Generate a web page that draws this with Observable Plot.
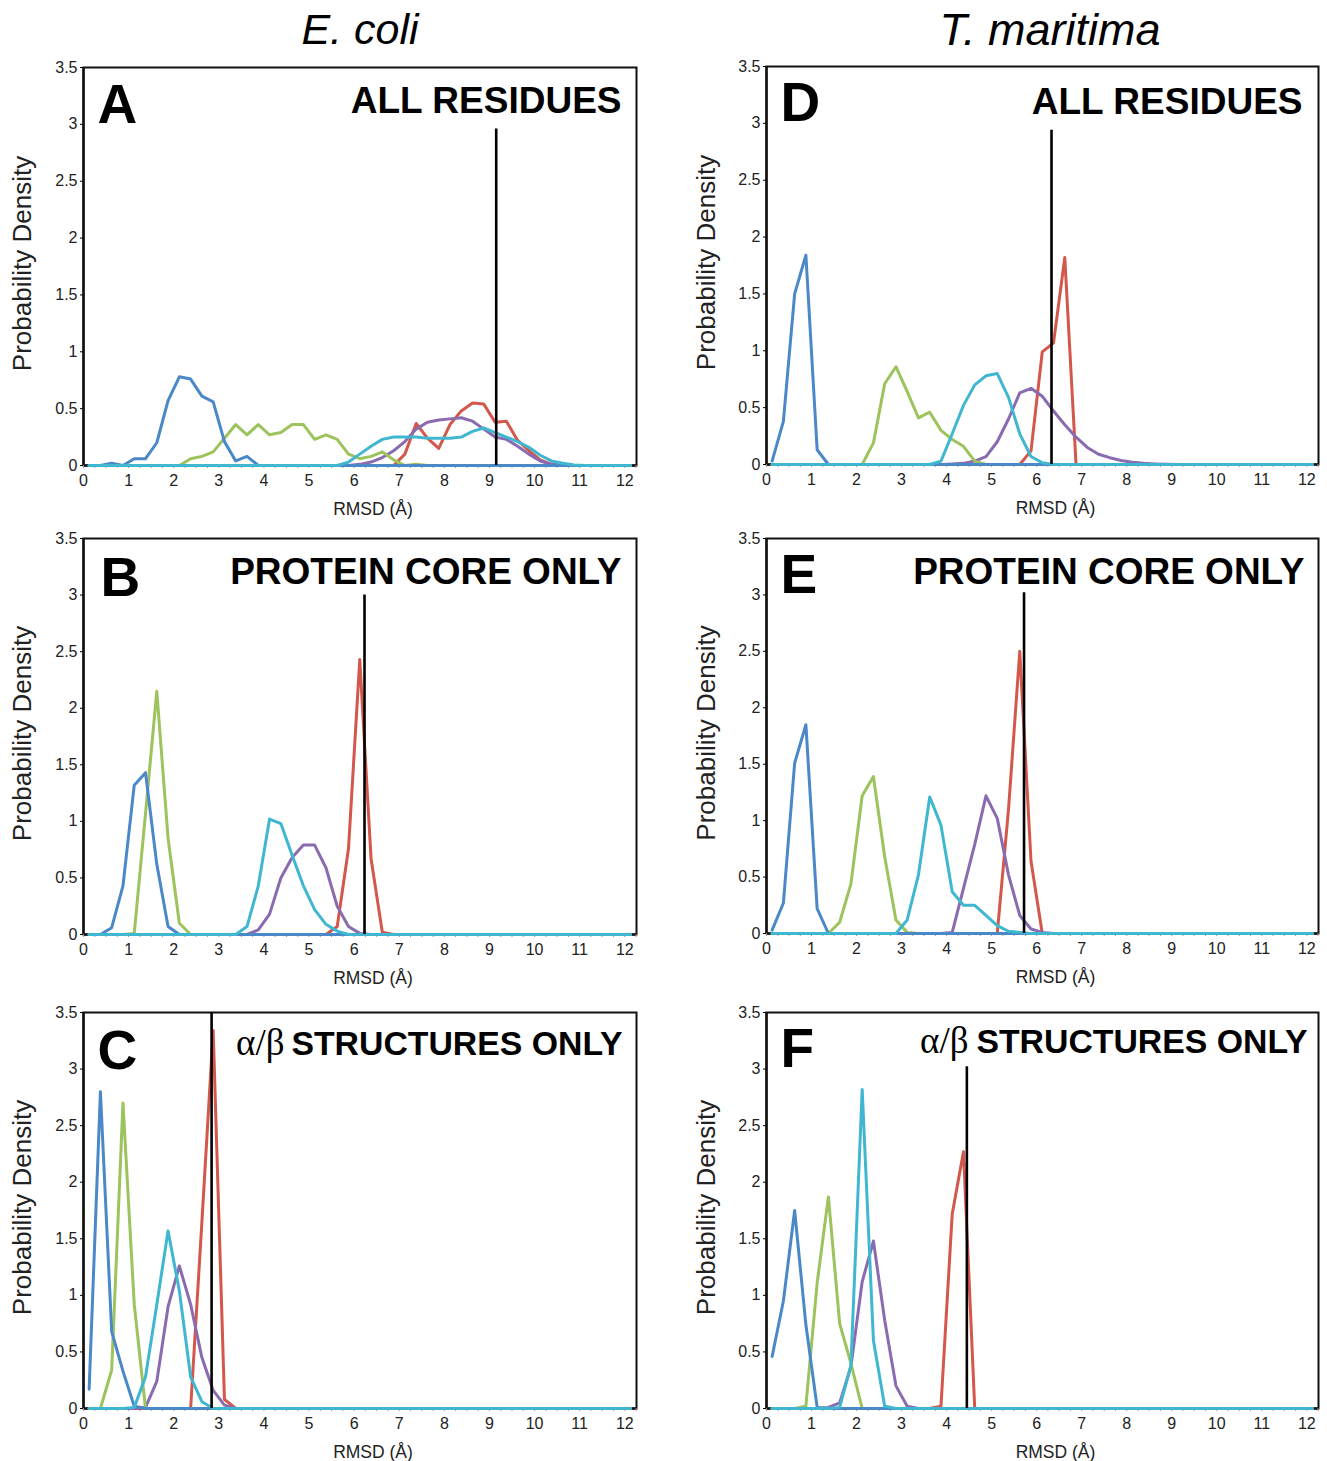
<!DOCTYPE html>
<html><head><meta charset="utf-8">
<script src="https://cdn.jsdelivr.net/npm/d3@7"></script>
<script src="https://cdn.jsdelivr.net/npm/@observablehq/plot@0.6"></script>
<style>
body{margin:0;background:#fff;width:1327px;height:1461px;overflow:hidden;position:relative;font-family:"Liberation Sans",Arial,sans-serif}
.panel{position:absolute}
.title{position:absolute;font-style:italic;line-height:1;text-align:center;width:400px;color:#000}
</style></head><body>
<div class="title" style="left:160px;top:8px;font-size:43px">E. coli</div>
<div class="title" style="left:850px;top:7px;font-size:45px">T. maritima</div>
<div id="A" class="panel"></div><div id="B" class="panel"></div><div id="C" class="panel"></div>
<div id="D" class="panel"></div><div id="E" class="panel"></div><div id="F" class="panel"></div>
<script>
// ---- data: RMSD bins (Å) start x0, step 0.25; probability density values ----
const seriesOrder = ["red", "purple", "green", "blue", "cyan"];
const seriesColors = {blue: "#4a88c8", green: "#9cc35c", cyan: "#40b7d0", purple: "#8a6bb0", red: "#d3574b"};
const yTicks = [0, 0.5, 1, 1.5, 2, 2.5, 3, 3.5];
const xTicks = [0, 1, 2, 3, 4, 5, 6, 7, 8, 9, 10, 11, 12];

// Panel A – E. coli, all residues
const A_blue   = {x0: 0.125, v: [0, 0, 0.02, 0, 0.06, 0.06, 0.2, 0.57, 0.78, 0.76, 0.61, 0.56, 0.21, 0.04, 0.08, 0]};
const A_green  = {x0: 2.125, v: [0, 0.06, 0.08, 0.12, 0.24, 0.36, 0.27, 0.36, 0.27, 0.29, 0.36, 0.36, 0.23, 0.27, 0.23, 0.10, 0.06, 0.08, 0.12, 0.05, 0, 0.01, 0]};
const A_red    = {x0: 6.875, v: [0, 0.1, 0.37, 0.24, 0.15, 0.36, 0.48, 0.55, 0.54, 0.38, 0.39, 0.22, 0.13, 0.05, 0.01, 0]};
const A_purple = {x0: 5.875, v: [0, 0.01, 0.03, 0.07, 0.13, 0.21, 0.32, 0.38, 0.40, 0.41, 0.42, 0.39, 0.32, 0.25, 0.23, 0.17, 0.10, 0.04, 0.01, 0]};
const A_cyan   = {x0: 5.625, v: [0, 0.03, 0.1, 0.17, 0.23, 0.25, 0.25, 0.25, 0.24, 0.24, 0.24, 0.25, 0.30, 0.33, 0.29, 0.25, 0.21, 0.16, 0.09, 0.04, 0.02, 0.005, 0]};
// Panel B – E. coli, protein core only
const B_blue   = {x0: 0.375, v: [0, 0.06, 0.43, 1.32, 1.43, 0.62, 0.07, 0]};
const B_green  = {x0: 0.875, v: [0, 0.01, 1.07, 2.15, 0.85, 0.1, 0]};
const B_cyan   = {x0: 3.375, v: [0, 0.07, 0.43, 1.02, 0.98, 0.7, 0.43, 0.22, 0.09, 0.03, 0]};
const B_purple = {x0: 3.625, v: [0, 0.04, 0.18, 0.5, 0.68, 0.79, 0.79, 0.59, 0.25, 0.07, 0.01, 0]};
const B_red    = {x0: 5.375, v: [0, 0.07, 0.76, 2.43, 0.67, 0.02, 0]};
// Panel C – E. coli, alpha/beta structures only
const C_blue   = {x0: 0.125, v: [0.17, 2.8, 0.68, 0.33, 0.02, 0]};
const C_green  = {x0: 0.375, v: [0, 0.34, 2.7, 0.92, 0]};
const C_cyan   = {x0: 0.875, v: [0, 0.01, 0.28, 0.92, 1.57, 1.04, 0.28, 0.06, 0]};
const C_purple = {x0: 1.125, v: [0, 0.01, 0.24, 0.9, 1.26, 0.92, 0.45, 0.16, 0.03, 0]};
const C_red    = {x0: 2.375, v: [0, 1.65, 3.34, 0.08, 0]};
// Panel D – T. maritima, all residues
const D_blue   = {x0: 0.125, v: [0.03, 0.38, 1.5, 1.84, 0.13, 0]};
const D_green  = {x0: 2.125, v: [0, 0.19, 0.71, 0.86, 0.64, 0.41, 0.46, 0.3, 0.22, 0.16, 0.03, 0]};
const D_cyan   = {x0: 3.625, v: [0, 0.03, 0.27, 0.52, 0.7, 0.78, 0.8, 0.59, 0.27, 0.07, 0.015, 0]};
const D_purple = {x0: 3.875, v: [0, 0.005, 0.01, 0.03, 0.07, 0.2, 0.4, 0.63, 0.67, 0.6, 0.47, 0.35, 0.24, 0.15, 0.09, 0.06, 0.035, 0.02, 0.01, 0.005, 0.002, 0]};
const D_red    = {x0: 5.375, v: [0, 0, 0.12, 0.99, 1.07, 1.82, 0, 0]};
// Panel E – T. maritima, protein core only
const E_blue   = {x0: 0.125, v: [0.03, 0.27, 1.51, 1.85, 0.22, 0]};
const E_green  = {x0: 1.375, v: [0, 0.1, 0.44, 1.22, 1.39, 0.68, 0.12, 0.01, 0]};
const E_cyan   = {x0: 2.875, v: [0, 0.12, 0.52, 1.21, 0.96, 0.37, 0.25, 0.25, 0.16, 0.07, 0.02, 0.01, 0]};
const E_purple = {x0: 3.875, v: [0, 0.01, 0.4, 0.79, 1.22, 1.02, 0.52, 0.16, 0.04, 0.01, 0]};
const E_red    = {x0: 4.875, v: [0, 0, 1.1, 2.5, 0.64, 0, 0]};
// Panel F – T. maritima, alpha/beta structures only
const F_blue   = {x0: 0.125, v: [0.46, 0.95, 1.75, 0.74, 0.01, 0]};
const F_green  = {x0: 0.625, v: [0, 0.02, 1.11, 1.87, 0.75, 0.4, 0, 0]};
const F_cyan   = {x0: 1.375, v: [0, 0.01, 0.38, 2.82, 0.6, 0.02, 0]};
const F_purple = {x0: 1.125, v: [0, 0.01, 0.05, 0.37, 1.12, 1.48, 0.78, 0.2, 0.02, 0]};
const F_red    = {x0: 3.625, v: [0, 0.02, 1.72, 2.27, 0, 0]};

// reference (vertical black) lines: RMSD position and height
const refX   = {A: 9.15, B: 6.23, C: 2.84, D: 6.33, E: 5.72, F: 4.45};
const refTop = {A: 2.96, B: 3.0, C: 3.5, D: 2.94, E: 3.02, F: 3.02};
const letters  = ["A", "B", "C", "D", "E", "F"];
const headings = {A: "ALL RESIDUES", B: "PROTEIN CORE ONLY", C: "STRUCTURES ONLY", D: "ALL RESIDUES", E: "PROTEIN CORE ONLY", F: "STRUCTURES ONLY"};
const seriesByPanel = {
  A: {blue: A_blue, green: A_green, red: A_red, purple: A_purple, cyan: A_cyan},
  B: {blue: B_blue, green: B_green, red: B_red, purple: B_purple, cyan: B_cyan},
  C: {blue: C_blue, green: C_green, red: C_red, purple: C_purple, cyan: C_cyan},
  D: {blue: D_blue, green: D_green, red: D_red, purple: D_purple, cyan: D_cyan},
  E: {blue: E_blue, green: E_green, red: E_red, purple: E_purple, cyan: E_cyan},
  F: {blue: F_blue, green: F_green, red: F_red, purple: F_purple, cyan: F_cyan}
};

// ---- layout (positions / styles only) ----
const layout = {
  A: {left: 0,   width: 660, mr: 24, top: 67,   bottom: 465,  hdx: -15, hdy: 45, ldx: 14, ldy: 55, hsize: 37,   adx: 0},
  B: {left: 0,   width: 660, mr: 24, top: 538,  bottom: 934,  hdx: -15, hdy: 45, ldx: 17, ldy: 57, hsize: 37,   adx: 0},
  C: {left: 0,   width: 660, mr: 24, top: 1012, bottom: 1408, hdx: -14, hdy: 42, ldx: 14, ldy: 56, hsize: 33.8, adx: -352},
  D: {left: 683, width: 644, mr: 9,  top: 66,   bottom: 464,  hdx: -16, hdy: 47, ldx: 14, ldy: 54, hsize: 37,   adx: 0},
  E: {left: 683, width: 644, mr: 9,  top: 538,  bottom: 933,  hdx: -14, hdy: 45, ldx: 14, ldy: 54, hsize: 37,   adx: 0},
  F: {left: 683, width: 644, mr: 9,  top: 1012, bottom: 1408, hdx: -11, hdy: 40, ldx: 14, ldy: 54, hsize: 33.8, adx: -350}
};
const BIN = 0.25, FIRST = 0.125, LAST = 12.125;
function expand(s) {
  const out = [];
  for (let k = 0; FIRST + k * BIN <= LAST + 1e-9; k++) {
    const x = FIRST + k * BIN;
    const i = Math.round((x - s.x0) / BIN);
    out.push({x, y: (i >= 0 && i < s.v.length) ? s.v[i] : 0});
  }
  return out;
}
const mt = 10, mb = 56, ml = 83;
for (const id of letters) {
  const L = layout[id];
  const series = seriesByPanel[id];
  const marks = [
    Plot.ruleY([0], {stroke: "#555", strokeWidth: 3}),
    Plot.ruleX([0], {stroke: "#555", strokeWidth: 3}),
    Plot.frame({stroke: "#111", strokeWidth: 2}),
    Plot.axisY({ticks: yTicks, tickSize: 3, tickPadding: 3, tickFormat: d => String(d), fontSize: 16, fill: "#222", label: null}),
    Plot.axisX({ticks: xTicks, tickSize: 0, tickPadding: 9, tickFormat: d => String(d), fontSize: 16, fill: "#222", label: null}),
    Plot.axisX({ticks: d3.range(0, 12.26, 0.25), tickSize: 3, stroke: "#999", tickFormat: () => "", label: null})
  ];
  for (const name of seriesOrder) {
    marks.push(Plot.line(expand(series[name]), {x: "x", y: "y", stroke: seriesColors[name], strokeWidth: 3}));
  }
  marks.push(Plot.ruleX([refX[id]], {x: d => d, y1: 0, y2: refTop[id], stroke: "#000", strokeWidth: 2.6}));
  marks.push(Plot.text([id], {frameAnchor: "top-left", dx: L.ldx, dy: L.ldy, lineAnchor: "bottom", textAnchor: "start", fontSize: 55, fontWeight: "bold", fill: "#000"}));
  marks.push(Plot.text([headings[id]], {frameAnchor: "top-right", dx: L.hdx, dy: L.hdy, lineAnchor: "bottom", textAnchor: "end", fontSize: L.hsize, fontWeight: "bold", fill: "#000"}));
  if (id === "C" || id === "F") {
    marks.push(Plot.text(["α/β"], {frameAnchor: "top-right", dx: L.adx, dy: L.hdy, lineAnchor: "bottom", textAnchor: "end", fontSize: 37, fontFamily: "Liberation Serif, Times New Roman, serif", fill: "#000"}));
  }
  marks.push(Plot.text(["Probability Density"], {frameAnchor: "left", dx: id < "D" ? -61 : -60, dy: -3, rotate: -90, textAnchor: "middle", lineAnchor: "middle", fontSize: 26, fill: "#222"}));
  marks.push(Plot.text(["RMSD (Å)"], {frameAnchor: "bottom", dx: 13, dy: 44, textAnchor: "middle", lineAnchor: "middle", fontSize: 17.5, fill: "#222"}));
  const svg = Plot.plot({
    width: L.width,
    height: (L.bottom - L.top) + mt + mb,
    marginLeft: ml, marginRight: L.mr, marginTop: mt, marginBottom: mb,
    x: {domain: [0, 12.26]},
    y: {domain: [0, 3.5]},
    style: {fontFamily: "Liberation Sans, Arial, sans-serif", background: "transparent", overflow: "visible"},
    marks
  });
  const div = document.getElementById(id);
  div.style.left = L.left + "px";
  div.style.top = (L.top - mt) + "px";
  div.appendChild(svg);
}
</script>
</body></html>
